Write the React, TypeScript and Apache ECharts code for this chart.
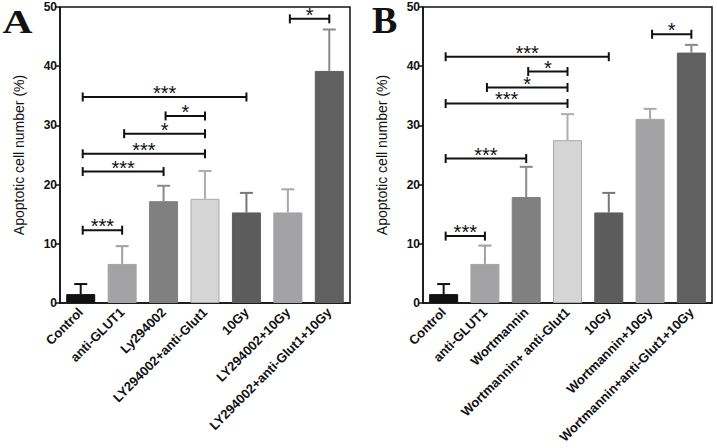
import React, { useEffect, useRef } from "react";
import * as echarts from "echarts";

const categoriesA = ["Control", "anti-GLUT1", "Ly294002", "LY294002+anti-Glut1", "10Gy", "LY294002+10Gy", "LY294002+anti-Glut1+10Gy"];
const meansA = [1.5, 6.6, 17.2, 17.6, 15.3, 15.3, 39.2];
const errTopA = [3.2, 9.6, 19.8, 22.3, 18.6, 19.2, 46.2];

const categoriesB = ["Control", "anti-GLUT1", "Wortmannin", "Wortmannin+ anti-Glut1", "10Gy", "Wortmannin+10Gy", "Wortmannin+anti-Glut1+10Gy"];
const meansB = [1.5, 6.6, 17.9, 27.5, 15.3, 31.1, 42.3];
const errTopB = [3.2, 9.7, 23.0, 31.9, 18.6, 32.8, 43.6];

// brackets: [from category index, to category index, height]
const bracketsA = [[0, 1, 12.3], [0, 2, 22.2], [0, 3, 25.2], [1, 3, 28.6], [2, 3, 31.6], [0, 4, 34.8], [5, 6, 48.0]];
const starsA = ["***", "***", "***", "*", "*", "***", "*"];
const bracketsB = [[0, 1, 11.3], [0, 2, 24.4], [0, 3, 33.7], [1, 3, 36.4], [2, 3, 39.1], [0, 4, 41.6], [5, 6, 45.4]];
const starsB = ["***", "***", "***", "*", "*", "***", "*"];

const yTicks = [0, 10, 20, 30, 40, 50];

const fills = ["#111111", "#a3a3a5", "#808080", "#d5d5d5", "#5c5c5c", "#a3a3a5", "#606060"];
const borders = ["#111111", "#a3a3a5", "#808080", "#a9a9a9", "#5c5c5c", "#a3a3a5", "#606060"];
const errColors = ["#111111", "#a0a0a0", "#8a8a8a", "#adadad", "#777777", "#a8a8a8", "#8a8a8a"];

const FONT = "'Liberation Sans', Arial, sans-serif";
const SERIF = "'Liberation Serif', 'Times New Roman', serif";

function makeBar(values: number[], idx: number) {
  return {
    type: "bar",
    xAxisIndex: idx,
    yAxisIndex: idx,
    barWidth: 29,
    data: values.map((v, i) => ({ value: v, itemStyle: { color: fills[i], borderColor: borders[i], borderWidth: 1 } })),
    z: 3,
  };
}

function makeErr(means: number[], tops: number[], idx: number) {
  return {
    type: "custom",
    xAxisIndex: idx,
    yAxisIndex: idx,
    encode: { x: 0, y: [1, 2] },
    data: means.map((m, i) => [i, m, tops[i]]),
    z: 2,
    renderItem: (params: any, api: any) => {
      const x = api.value(0);
      const p0 = api.coord([x, api.value(1)]);
      const p1 = api.coord([x, api.value(2)]);
      const c = errColors[params.dataIndex];
      return {
        type: "group",
        children: [
          { type: "line", shape: { x1: p0[0], y1: p0[1], x2: p1[0], y2: p1[1] }, style: { stroke: c, lineWidth: 2 } },
          { type: "line", shape: { x1: p1[0] - 6.5, y1: p1[1], x2: p1[0] + 6.5, y2: p1[1] }, style: { stroke: c, lineWidth: 2 } },
        ],
      };
    },
  };
}

function makeBrackets(br: number[][], stars: string[], idx: number) {
  return {
    type: "custom",
    xAxisIndex: idx,
    yAxisIndex: idx,
    encode: { x: [0, 1], y: 2 },
    data: br,
    z: 4,
    renderItem: (params: any, api: any) => {
      const a = api.coord([api.value(0), api.value(2)]);
      const b = api.coord([api.value(1), api.value(2)]);
      const x1 = a[0] + 2;
      const x2 = b[0];
      const y = a[1];
      const st = { stroke: "#111", lineWidth: 2 };
      return {
        type: "group",
        children: [
          { type: "line", shape: { x1, y1: y, x2, y2: y }, style: st },
          { type: "line", shape: { x1, y1: y - 4.5, x2: x1, y2: y + 4.5 }, style: st },
          { type: "line", shape: { x1: x2, y1: y - 4.5, x2, y2: y + 4.5 }, style: st },
          {
            type: "text",
            x: (x1 + x2) / 2,
            y: y - 4,
            style: {
              text: stars[params.dataIndex],
              fontSize: 20,
              fontFamily: FONT,
              fill: "#111",
              align: "center",
              verticalAlign: "middle",
              textAlign: "center",
              textVerticalAlign: "middle",
            },
          },
        ],
      };
    },
  };
}

function xAxisFor(cats: string[], idx: number) {
  return {
    type: "category",
    gridIndex: idx,
    data: cats,
    axisLine: { lineStyle: { color: "#111", width: 1.5 } },
    axisTick: { alignWithLabel: true, length: 5, lineStyle: { color: "#111", width: 1.5 } },
    axisLabel: { rotate: 45, interval: 0, fontSize: 13, fontWeight: "bold", fontFamily: FONT, color: "#111", margin: 7 },
  };
}

function yAxisFor(idx: number) {
  return {
    type: "value",
    gridIndex: idx,
    min: yTicks[0],
    max: yTicks[yTicks.length - 1],
    interval: 10,
    name: "Apoptotic cell number (%)",
    nameLocation: "middle",
    nameGap: 34,
    nameTextStyle: { fontSize: 14, fontFamily: FONT, color: "#111" },
    splitLine: { show: false },
    axisLine: { show: true, lineStyle: { color: "#111", width: 1.5 } },
    axisTick: { show: true, length: 5, lineStyle: { color: "#111", width: 1.5 } },
    axisLabel: { fontSize: 12, fontWeight: "bold", fontFamily: FONT, color: "#111", margin: 3 },
  };
}

export default function App() {
  const ref = useRef<HTMLDivElement>(null);
  useEffect(() => {
    if (!ref.current) return;
    const chart = echarts.init(ref.current, null, { renderer: "svg" });
    chart.setOption({
      animation: false,
      backgroundColor: "#ffffff",
      grid: [
        { left: 60, top: 7, width: 290, height: 296, show: true, borderColor: "#111", borderWidth: 1.5 },
        { left: 423, top: 7, width: 289, height: 296, show: true, borderColor: "#111", borderWidth: 1.5 },
      ],
      xAxis: [xAxisFor(categoriesA, 0), xAxisFor(categoriesB, 1)],
      yAxis: [yAxisFor(0), yAxisFor(1)],
      graphic: [
        {
          type: "text",
          x: 2.5,
          y: 22.2,
          scaleX: 1.26,
          style: { text: "A", x: 0, y: 0, fontSize: 33, lineHeight: 30, fontWeight: "bold", fontFamily: SERIF, fill: "#111", align: "left", verticalAlign: "middle", textAlign: "left", textVerticalAlign: "middle" },
        },
        {
          type: "text",
          x: 372,
          y: 20,
          style: { text: "B", x: 0, y: 0, fontSize: 38, lineHeight: 34, fontWeight: "bold", fontFamily: SERIF, fill: "#111", align: "left", verticalAlign: "middle", textAlign: "left", textVerticalAlign: "middle" },
        },
      ],
      series: [
        makeErr(meansA, errTopA, 0),
        makeErr(meansB, errTopB, 1),
        makeBar(meansA, 0),
        makeBar(meansB, 1),
        makeBrackets(bracketsA, starsA, 0),
        makeBrackets(bracketsB, starsB, 1),
      ],
    });
    return () => chart.dispose();
  }, []);
  return <div ref={ref} style={{ position: "fixed", left: 0, top: 0, width: 717, height: 448 }} />;
}
